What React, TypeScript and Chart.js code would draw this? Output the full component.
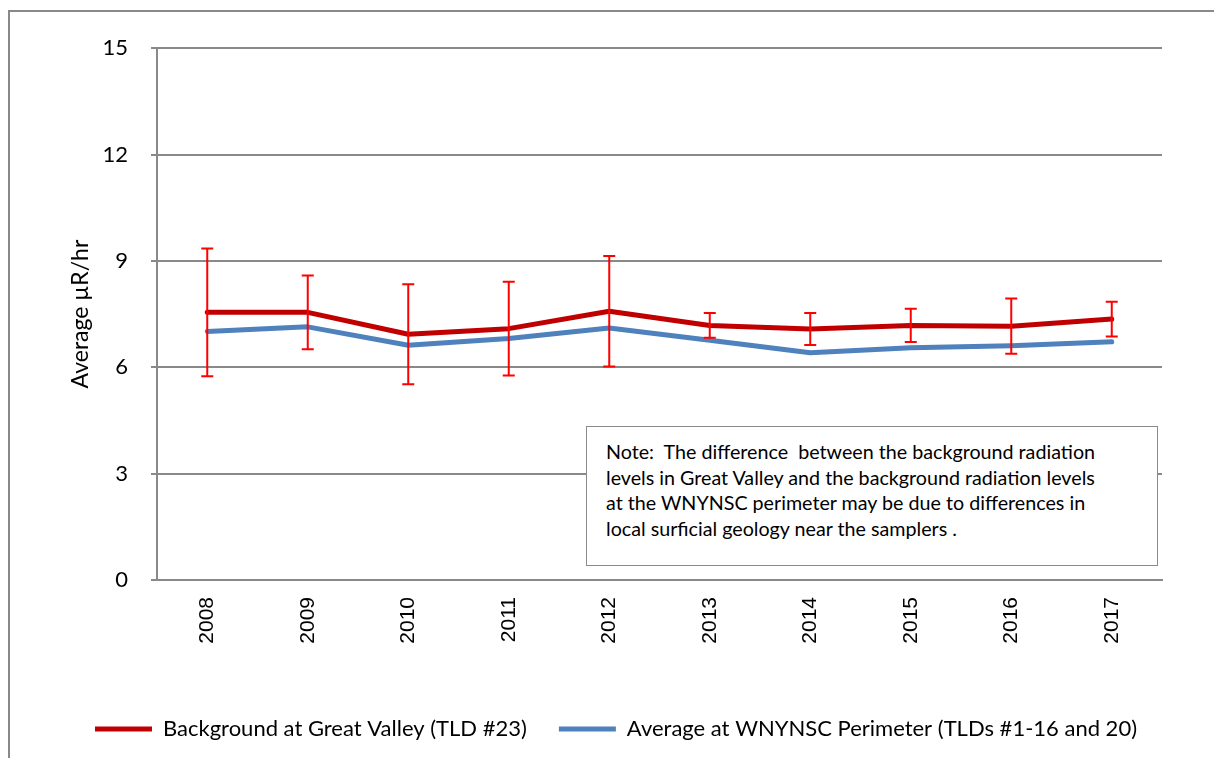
import React, { useEffect, useRef } from "react";
import { Chart, registerables } from "chart.js";

Chart.register(...registerables);

const years = ["2008", "2009", "2010", "2011", "2012", "2013", "2014", "2015", "2016", "2017"];
const greatValley = [7.55, 7.55, 6.93, 7.09, 7.58, 7.18, 7.08, 7.18, 7.16, 7.36];
const perimeter = [7.01, 7.14, 6.62, 6.81, 7.11, 6.76, 6.41, 6.55, 6.61, 6.72];
const greatValleyError = [1.8, 1.04, 1.41, 1.32, 1.56, 0.35, 0.45, 0.47, 0.78, 0.49];
const yTicks = [0, 3, 6, 9, 12, 15];
const seriesLabels = [
  "Background at Great Valley (TLD #23)",
  "Average at WNYNSC Perimeter (TLDs #1-16 and 20)",
];
const noteLines = [
  "Note:  The difference  between the background radiation",
  "levels in Great Valley and the background radiation levels",
  "at the WNYNSC perimeter may be due to differences in",
  "local surficial geology near the samplers .",
];

const CALIBRI = "Lato, 'Open Sans', sans-serif";
const GRAY = "#898989";

const errorBarPlugin = {
  id: "errorBars",
  afterDatasetsDraw(chart: any) {
    const { ctx, scales } = chart;
    const xs = scales.x;
    const ys = scales.y;
    ctx.save();
    ctx.strokeStyle = "#FF0000";
    ctx.lineWidth = 2;
    greatValley.forEach((v, i) => {
      const x = xs.getPixelForValue(i);
      const yT = ys.getPixelForValue(v + greatValleyError[i]);
      const yB = ys.getPixelForValue(v - greatValleyError[i]);
      ctx.beginPath();
      ctx.moveTo(x, yT);
      ctx.lineTo(x, yB);
      ctx.moveTo(x - 6, yT);
      ctx.lineTo(x + 6, yT);
      ctx.moveTo(x - 6, yB);
      ctx.lineTo(x + 6, yB);
      ctx.stroke();
    });
    ctx.restore();
  },
};

export default function App() {
  const ref = useRef<HTMLCanvasElement>(null);
  useEffect(() => {
    if (!ref.current) return;
    const chart = new Chart(ref.current, {
      type: "line",
      data: {
        labels: years,
        datasets: [
          {
            label: seriesLabels[0],
            data: greatValley,
            borderColor: "#C00000",
            backgroundColor: "#C00000",
            borderWidth: 5,
            pointRadius: 0,
            borderCapStyle: "round",
            borderJoinStyle: "round",
            tension: 0,
          },
          {
            label: seriesLabels[1],
            data: perimeter,
            borderColor: "#4F81BD",
            backgroundColor: "#4F81BD",
            borderWidth: 5,
            pointRadius: 0,
            borderCapStyle: "round",
            borderJoinStyle: "round",
            tension: 0,
          },
        ],
      },
      options: {
        responsive: false,
        animation: false,
        layout: { padding: { top: 36, right: 0, left: 0, bottom: 10 } },
        plugins: {
          tooltip: { enabled: false },
          legend: {
            position: "bottom",
            labels: {
              usePointStyle: true,
              pointStyle: "line",
              pointStyleWidth: 57,
              padding: 32,
              color: "#000",
              font: { family: CALIBRI, size: 22 },
            },
          },
        },
        scales: {
          x: {
            type: "category",
            offset: true,
            grid: { display: false, drawTicks: false },
            border: { display: true, color: GRAY, width: 2 },
            ticks: {
              color: "#000",
              font: { family: "'Liberation Sans', Arial, sans-serif", size: 21 },
              minRotation: 90,
              maxRotation: 90,
              padding: 17,
              autoSkip: false,
            },
            afterFit: (s: any) => {
              s.height = 106;
            },
          },
          y: {
            min: 0,
            max: 15,
            afterBuildTicks: (s: any) => {
              s.ticks = yTicks.map((v) => ({ value: v }));
            },
            grid: { color: GRAY, lineWidth: 2, tickLength: 6, tickColor: GRAY },
            border: { display: true, color: GRAY, width: 2 },
            ticks: {
              color: "#000",
              font: { family: CALIBRI, size: 22 },
              padding: 23,
            },
            title: {
              display: true,
              text: "Average µR/hr",
              color: "#000",
              font: { family: CALIBRI, size: 23 },
              padding: { top: 57, bottom: 0 },
            },
            afterFit: (s: any) => {
              s.width = 147;
            },
          },
          yRight: {
            position: "right",
            display: true,
            grid: { display: false, drawTicks: false },
            border: { display: false },
            ticks: { display: false },
            afterFit: (s: any) => {
              s.width = 60;
            },
          },
        },
      },
      plugins: [errorBarPlugin],
    } as any);
    return () => chart.destroy();
  }, []);

  return (
    <>
      <style>{`body{overflow:hidden;}`}</style>
      <div
        style={{
          position: "relative",
          top: 2,
          width: 1214,
          height: 750,
          boxSizing: "border-box",
          borderLeft: `2px solid ${GRAY}`,
          borderTop: `2px solid ${GRAY}`,
          overflow: "hidden",
          background: "#fff",
        }}
      >
        <canvas ref={ref} width={1212} height={748} style={{ display: "block" }} />
        <div
          style={{
            position: "absolute",
            left: 576,
            top: 414,
            width: 572,
            height: 140,
            boxSizing: "border-box",
            border: "1.5px solid #8a8a8a",
            background: "#fff",
            padding: "12px 0 0 19px",
            fontFamily: CALIBRI,
            fontSize: 19.7,
            lineHeight: "25.5px",
            color: "#000",
            whiteSpace: "pre",
          }}
        >
          {noteLines.map((l, i) => (
            <div key={i}>{l}</div>
          ))}
        </div>
      </div>
    </>
  );
}
